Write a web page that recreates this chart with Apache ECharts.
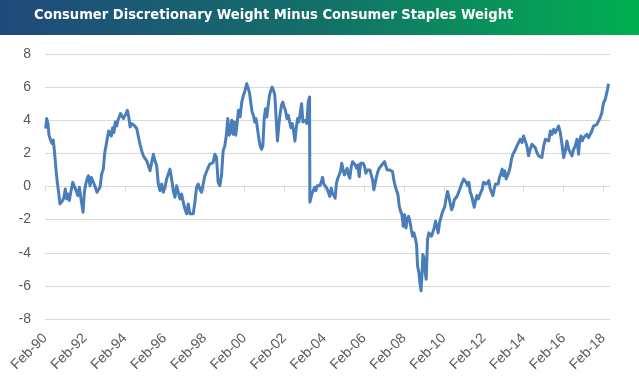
<!DOCTYPE html>
<html>
<head>
<meta charset="utf-8">
<script src="https://cdn.jsdelivr.net/npm/echarts@6/dist/echarts.min.js"></script>
<style>html,body{margin:0;padding:0;background:#fff;}#c{width:639px;height:380px;}</style>
</head>
<body>
<div id="c"></div>
<script>
// x values: months since Feb-1990
var months = [0.4,1.0,1.8,2.4,3.4,4.2,5.0,5.8,6.6,7.4,8.2,9.0,9.8,10.6,11.4,12.2,13.0,13.8,14.6,15.5,16.7,17.9,18.7,19.7,20.7,21.5,22.3,22.9,23.7,24.5,25.3,26.1,27.1,27.9,28.7,29.5,30.3,31.3,32.3,33.1,34.1,35.1,35.9,36.7,37.5,38.3,39.1,39.9,40.7,41.5,42.3,43.1,43.9,44.7,45.5,46.4,47.2,48.0,48.8,49.6,50.4,51.2,52.0,52.8,53.6,54.4,
55.2,56.2,57.2,58.2,59.2,60.2,61.2,62.2,63.2,64.2,65.2,66.2,67.2,68.2,69.2,70.2,71.2,72.2,73.2,74.2,75.2,76.2,77.2,78.2,79.2,80.2,81.2,82.2,83.2,84.2,85.2,86.2,87.2,88.2,89.2,90.2,91.2,92.2,93.2,94.2,95.2,96.2,97.2,98.2,99.2,100.2,101.2,102.2,103.2,104.2,105.2,106.2,107.2,108.2,109.2,110.0,110.8,111.6,112.4,113.2,114.0,114.8,115.4,116.4,117.4,118.4,119.4,120.4,121.4,122.4,123.0,123.8,124.6,125.4,126.2,127.0,127.8,128.6,129.5,130.3,131.1,131.9,132.7,133.5,134.3,135.1,135.9,136.7,137.5,138.3,139.1,139.9,140.7,141.5,142.3,143.1,143.9,144.7,145.6,146.4,147.2,148.0,148.8,149.6,150.4,151.2,152.0,152.8,153.6,154.4,155.2,156.0,156.8,157.6,158.4,159.2,159.4,159.8,160.6,161.4,162.2,163.0,163.8,164.6,165.4,166.2,167.0,167.8,168.6,169.6,170.6,171.4,172.2,173.0,173.8,174.6,175.4,176.2,177.0,177.8,178.6,179.4,180.2,181.0,181.8,182.6,183.4,184.3,185.1,185.9,186.7,187.5,188.3,189.1,189.9,190.7,191.5,192.3,193.1,193.9,194.7,195.5,196.3,197.1,197.9,198.7,199.5,200.3,201.1,201.9,202.7,203.5,204.3,205.1,205.9,206.7,207.5,208.3,209.1,209.9,210.8,211.6,212.4,213.2,214.0,214.8,215.6,216.4,217.2,218.0,218.8,219.6,220.4,221.2,222.0,222.8,223.6,224.2,225.0,225.6,226.3,226.9,227.4,228.0,228.8,229.4,230.2,231.0,231.8,232.6,233.4,234.2,235.0,235.8,236.6,237.4,238.2,239.0,239.8,240.6,241.4,242.2,243.0,243.8,244.7,245.5,246.3,247.1,247.9,248.7,249.5,250.3,251.1,251.9,252.7,253.5,254.3,255.1,255.9,256.7,257.5,258.3,259.1,259.9,260.7,261.5,262.3,263.1,263.9,264.7,265.5,266.3,267.1,267.9,268.7,269.5,270.3,271.1,271.9,272.7,273.5,274.3,275.1,275.9,276.7,277.5,278.3,279.1,279.9,280.7,281.6,282.4,283.2,284.0,285.0,286.0,287.0,288.0,289.0,290.0,291.0,292.0,293.0,294.0,295.0,296.0,297.0,298.0,299.0,300.1,301.1,302.1,303.1,304.1,305.1,306.1,307.1,308.1,309.1,310.1,311.1,312.1,313.1,314.1,315.1,316.1,317.1,318.1,319.1,320.1,321.1,321.7,322.5,323.3,324.1,325.1,326.1,327.1,328.1,329.1,330.1,331.1,332.1,333.1,334.1,335.1,336.1,337.1,337.9,338.5,339.1];

// Discretionary weight minus Staples weight (percentage points)
var spread = [3.5,4.1,3.8,3.1,2.8,2.6,2.8,2.0,1.05,0.25,-0.35,-1.05,-0.95,-0.85,-0.65,-0.15,-0.75,-0.45,-0.85,-0.35,0.25,0.15,-0.25,-0.55,-0.05,-0.65,-1.15,-1.55,-0.35,0.15,0.45,0.65,0.05,0.55,0.65,0.15,-0.05,-0.35,-0.45,-0.05,0.75,1.05,2.0,2.45,2.55,3.35,3.45,3.05,3.55,3.25,3.9,3.65,4.0,4.1,4.4,4.3,4.1,4.2,4.4,4.6,4.2,3.6,3.8,3.9,3.7,3.8,
3.5,3.0,2.55,2.15,1.85,1.75,1.55,1.25,0.95,1.45,1.95,1.55,1.25,0.15,-0.25,0.15,-0.35,-0.05,0.45,0.55,1.05,0.45,-0.25,-0.65,0.05,-0.35,-0.75,-0.45,-0.95,-1.35,-1.65,-1.05,-1.65,-1.55,-1.65,-0.95,-0.05,0.15,-0.15,-0.35,-0.25,0.65,0.75,1.15,1.35,1.25,1.45,1.95,1.75,0.25,0.05,0.65,2.15,2.45,3.15,4.1,3.1,3.3,4.0,3.15,3.9,3.1,3.6,4.6,4.2,5.1,5.5,5.8,6.2,6.3,5.7,5.1,4.5,4.3,3.9,4.1,3.55,2.95,2.45,2.25,2.45,4.1,4.7,4.2,4.9,5.5,5.8,6.0,5.8,5.5,4.1,2.75,3.7,4.4,4.9,5.1,4.8,4.6,4.1,4.3,3.9,3.55,3.8,3.35,2.75,3.55,4.1,3.9,4.0,5.0,3.9,3.8,4.0,3.8,5.1,5.4,-0.95,-0.85,-0.45,-0.35,-0.05,-0.25,0.05,-0.05,0.05,0.25,0.55,0.15,0.1,-0.1,-0.2,-0.6,-0.1,-0.4,-0.3,-0.7,0.2,0.5,0.7,0.9,1.4,1.0,0.7,0.8,1.1,0.7,0.5,1.2,1.5,1.6,1.3,1.1,1.3,0.6,1.4,1.3,1.4,1.2,0.8,1.0,0.9,1.0,0.7,0.4,-0.2,-0.2,0.6,0.9,1.1,1.2,1.3,1.4,1.5,1.4,1.0,0.9,1.0,0.9,0.9,0.4,0.0,-0.1,-0.5,-1.2,-1.5,-1.7,-2.4,-1.7,-2.5,-2.0,-1.8,-2.1,-2.6,-3.0,-2.8,-3.1,-3.5,-4.8,-5.2,-5.8,-6.3,-5.2,-4.1,-4.3,-5.2,-5.6,-3.2,-2.8,-2.7,-3.0,-3.1,-2.5,-2.1,-2.4,-2.8,-2.2,-1.9,-1.6,-1.7,-1.2,-0.7,-0.3,-0.6,-1.0,-1.4,-1.2,-0.8,-0.8,-0.6,-0.4,-0.2,0.05,0.25,0.45,0.55,0.25,0.05,0.25,-0.35,-0.55,-0.45,-1.25,-0.85,-0.55,-0.75,-0.85,-0.35,-0.15,0.25,0.35,0.15,0.25,0.35,-0.15,-0.35,-0.55,-0.15,0.15,0.25,0.15,0.55,0.75,1.05,0.65,0.95,0.45,0.55,0.85,1.15,1.65,1.95,2.05,2.25,2.45,2.35,2.85,2.65,3.05,2.95,2.45,1.85,2.25,2.55,2.45,2.35,2.05,1.85,1.95,1.75,2.45,2.85,2.95,2.75,3.35,3.15,3.45,3.25,3.35,3.65,3.25,2.55,1.75,2.15,2.75,2.25,2.15,1.85,2.25,2.45,2.85,1.95,2.75,3.05,2.75,2.95,2.85,3.15,2.95,3.05,3.35,3.65,3.55,3.75,3.85,4.15,4.45,5.05,5.25,5.15,5.85,6.2];

var tickLabels = ['Feb-90','Feb-92','Feb-94','Feb-96','Feb-98','Feb-00','Feb-02','Feb-04','Feb-06','Feb-08','Feb-10','Feb-12','Feb-14','Feb-16','Feb-18'];
var yTicks = [-8,-6,-4,-2,0,2,4,6,8];
var titleText = 'Consumer Discretionary Weight Minus Consumer Staples Weight';

var tickMonths = tickLabels.map(function (l, i) { return i * 24; });
var seriesData = months.map(function (m, i) { return [m, spread[i]]; });
var labelFor = function (v) { var i = tickMonths.indexOf(v); return i >= 0 ? tickLabels[i] : ''; };

var chart = echarts.init(document.getElementById('c'), null, {renderer: 'canvas'});
chart.setOption({
  animation: false,
  backgroundColor: '#ffffff',
  graphic: [
    {type: 'rect', left: 0, top: 0, shape: {width: 639, height: 35},
     style: {fill: new echarts.graphic.LinearGradient(0, 0, 1, 0, [
       {offset: 0, color: '#20497c'}, {offset: 0.5, color: '#137068'}, {offset: 1, color: '#00b050'}])}},
    {type: 'text', left: 34, top: 8,
     style: {text: titleText, fill: '#ffffff', font: 'bold 14.6px "Liberation Sans Narrow", "DejaVu Sans Condensed", Lato, sans-serif'}}
  ],
  grid: {left: 45, right: 29, top: 54, bottom: 61, containLabel: false},
  xAxis: [
    {type: 'value', min: 0, max: 340, position: 'bottom',
     axisLine: {show: false, onZero: false}, axisTick: {show: false}, splitLine: {show: false},
     axisLabel: {customValues: tickMonths, formatter: labelFor, rotate: 45, margin: 17,
                 color: '#595959', fontSize: 14, fontFamily: '"Liberation Sans", Arial, sans-serif'}},
    {type: 'value', min: 0, max: 340, position: 'bottom',
     axisLine: {show: true, onZero: true, onZeroAxisIndex: 0, lineStyle: {color: '#d9d9d9', width: 1}},
     axisTick: {show: true, customValues: tickMonths, length: 5, lineStyle: {color: '#d9d9d9'}},
     axisLabel: {show: false}, splitLine: {show: false}}
  ],
  yAxis: {type: 'value', min: yTicks[0], max: yTicks[yTicks.length - 1], interval: 2,
    axisLine: {show: false}, axisTick: {show: false},
    splitLine: {show: true, lineStyle: {color: '#d9d9d9', width: 1}},
    axisLabel: {color: '#595959', fontSize: 14, margin: 14, fontFamily: '"Liberation Sans", Arial, sans-serif'}},
  series: [{type: 'line', xAxisIndex: 0, yAxisIndex: 0, data: seriesData, showSymbol: false, symbol: 'none',
    lineStyle: {color: '#4a7ebb', width: 3, join: 'round'}, itemStyle: {color: '#4a7ebb'}}]
});
</script>
</body>
</html>
